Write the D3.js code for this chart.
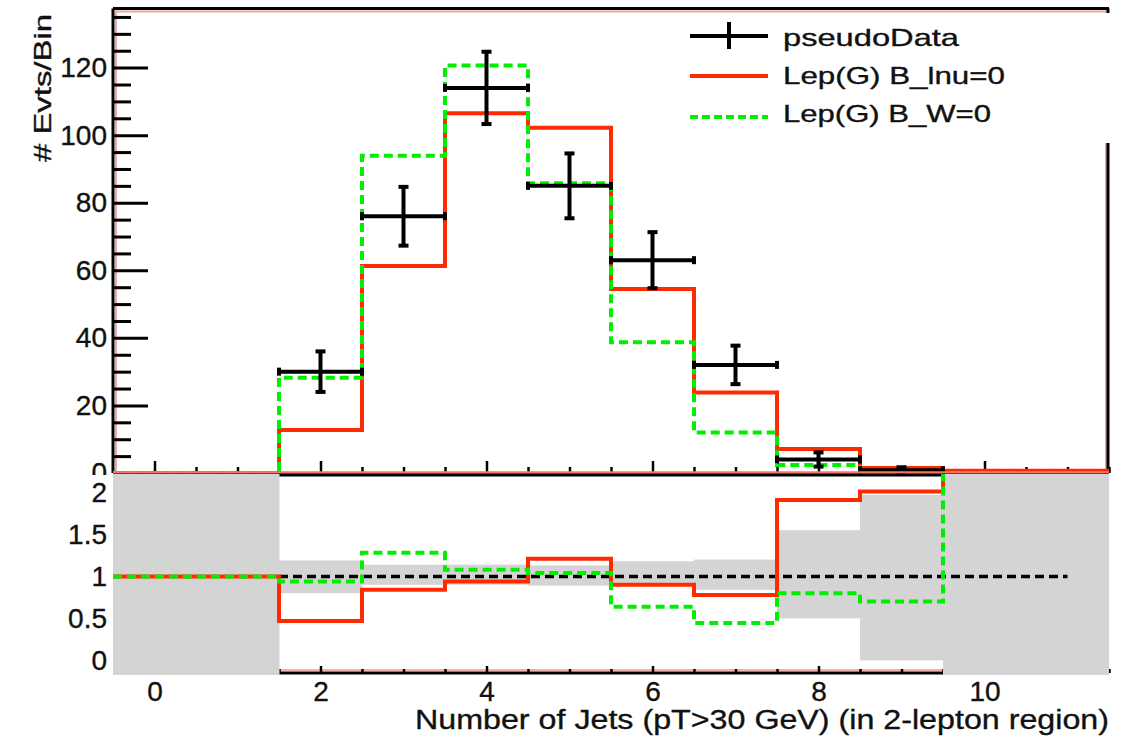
<!DOCTYPE html>
<html><head><meta charset="utf-8">
<script src="https://cdn.jsdelivr.net/npm/d3@7"></script>
<style>
html,body{margin:0;padding:0;background:#fff;}
svg{display:block;font-family:"Liberation Sans",Arial,Helvetica,sans-serif;}
svg text{stroke:#111;stroke-width:0.35px;}
</style>
</head><body>
<svg id="c" width="1132" height="745"></svg>
<script>
// Jet multiplicity bins (bin centres)
const nJets = [0, 1, 2, 3, 4, 5, 6, 7, 8, 9, 10, 11];

// Upper panel: event counts per bin
const pseudoData    = [0, 0, 30, 76, 114, 85, 63, 32, 4, 0.8, 0, 0];
const pseudoDataErr = [0, 0, 6, 8.7, 10.7, 9.6, 8.3, 5.7, 2.1, 0.9, 0, 0];
const lepGBlnu      = [0, 0, 12.7, 61.3, 106.5, 102.2, 54.5, 23.8, 7.1, 1.5, 0.7, 0.7];
const lepGBW        = [0, 0, 28.2, 93.9, 120.6, 85.8, 38.7, 12.0, 2.4, 0.5, 0, 0];

// Lower panel: model / pseudo-data ratios (null = off scale)
const ratioBlnu = [1, 1, 0.47, 0.84, 0.94, 1.21, 0.90, 0.78, 1.91, 2.01, null, null];
const ratioBW    = [1, 1, 0.94, 1.28, 1.08, 1.04, 0.64, 0.445, 0.80, 0.70, null, null];

// Statistical band of the pseudo-data (null = band fills the panel)
const bandHi = [null, null, 1.19, 1.14, 1.14, 1.13, 1.18, 1.20, 1.55, 1.97, null, null];
const bandLo = [null, null, 0.80, 0.90, 0.90, 0.89, 0.92, 0.84, 0.50, 0.00, null, null];

// Axis ticks and labels
const yMajor = [0, 20, 40, 60, 80, 100, 120];
const yMinor = d3.range(0, 136, 5);
const xMajor = [0, 2, 4, 6, 8, 10];
const xMinor = d3.range(0, 11.51, 0.5);
const rMajor = [0, 0.5, 1, 1.5, 2];
const refLine = [1.5, 11];

const legendItems = ["pseudoData", "Lep(G) B_lnu=0", "Lep(G) B_W=0"];
const xTitle = "Number of Jets (pT>30 GeV) (in 2-lepton region)";
const yTitle = "# Evts/Bin";

const RED = "#ff2a00", GREEN = "#00ee00", GRAY = "#d4d4d4", PINK = "#eaa8a8";

const svg = d3.select("#c");
const x  = d3.scaleLinear().domain([-0.5, 11.5]).range([113, 1109]);
const y  = d3.scaleLinear().domain([0, 137.5]).range([473, 8.5]);
const yR = d3.scaleLinear().domain([-0.15, 2.207]).range([673, 475]);

svg.append("rect").attr("width", 1132).attr("height", 745).attr("fill", "#fff");

// ---------- upper panel ----------
const upper = svg.append("g");
// faint inner frame
upper.append("rect").attr("x", x(-0.5) + 3).attr("y", y.range()[1] + 3)
  .attr("width", x(11.5) - x(-0.5) - 6).attr("height", y(0) - y.range()[1] - 3)
  .attr("fill", "none").attr("stroke", PINK).attr("stroke-width", 2);

function styleTicks(g, w) {
  g.select(".domain").remove();
  g.selectAll(".tick line").attr("stroke", "#000").attr("stroke-width", w);
  g.selectAll(".tick text").remove();
}
upper.append("g").attr("transform", `translate(0,${y(0)})`)
  .call(d3.axisTop(x).tickValues(xMinor.filter(v => !xMajor.includes(v))).tickSize(6)).call(g => styleTicks(g, 2.5));
upper.append("g").attr("transform", `translate(0,${y(0)})`)
  .call(d3.axisTop(x).tickValues(xMajor).tickSize(12)).call(g => styleTicks(g, 2.5));
upper.append("g").attr("transform", `translate(${x(-0.5)},0)`)
  .call(d3.axisRight(y).tickValues(yMinor.filter(v => !yMajor.includes(v))).tickSize(18)).call(g => styleTicks(g, 3));
upper.append("g").attr("transform", `translate(${x(-0.5)},0)`)
  .call(d3.axisRight(y).tickValues(yMajor).tickSize(35)).call(g => styleTicks(g, 3));

// frame
const frame = upper.append("g").attr("stroke", "#000").attr("stroke-width", 3);
frame.append("line").attr("x1", x(-0.5)).attr("x2", x(-0.5)).attr("y1", y.range()[1]).attr("y2", y(0));
frame.append("line").attr("x1", x(-0.5)).attr("x2", x(11.5)).attr("y1", y.range()[1]).attr("y2", y.range()[1]);
frame.append("line").attr("x1", x(11.5) - 1).attr("x2", x(11.5) - 1).attr("y1", y.range()[1]).attr("y2", y(0));

const stepPts = vals => vals.flatMap((v, i) => [[nJets[i] - 0.5, v], [nJets[i] + 0.5, v]]);
const histLine = d3.line().x(d => x(d[0])).y(d => y(d[1]));

upper.append("path").attr("d", histLine(stepPts(lepGBlnu)))
  .attr("fill", "none").attr("stroke", RED).attr("stroke-width", 4).attr("stroke-linejoin", "miter");
upper.append("path").attr("d", histLine(stepPts(lepGBW)))
  .attr("fill", "none").attr("stroke", GREEN).attr("stroke-width", 4).attr("stroke-dasharray", "9,5");

// pseudo-data crosses
const pts = nJets.map((n, i) => ({n, v: pseudoData[i], e: pseudoDataErr[i]})).filter(d => d.v > 0);
const dg = upper.append("g").attr("fill", "#000").attr("stroke", "#000");
dg.selectAll("line.h").data(pts).join("line").attr("class", "h")
  .attr("x1", d => x(d.n - 0.5)).attr("x2", d => x(d.n + 0.5))
  .attr("y1", d => y(d.v)).attr("y2", d => y(d.v)).attr("stroke-width", 4);
dg.selectAll("line.v").data(pts).join("line").attr("class", "v")
  .attr("x1", d => x(d.n)).attr("x2", d => x(d.n))
  .attr("y1", d => y(d.v - d.e)).attr("y2", d => y(d.v + d.e)).attr("stroke-width", 4);
["lo", "hi"].forEach(k => {
  dg.selectAll("rect.c" + k).data(pts).join("rect").attr("class", "c" + k).attr("stroke", "none")
    .attr("x", d => x(d.n) - 5).attr("width", 10).attr("height", 4)
    .attr("y", d => y(k === "lo" ? d.v - d.e : d.v + d.e) - 2);
  dg.selectAll("rect.e" + k).data(pts).join("rect").attr("class", "e" + k).attr("stroke", "none")
    .attr("x", d => x(k === "lo" ? d.n - 0.5 : d.n + 0.5) - 2).attr("width", 4).attr("height", 8)
    .attr("y", d => y(d.v) - 4);
});

// legend
const lg = svg.append("g");
lg.append("rect").attr("x", 665).attr("y", 13).attr("width", 450).attr("height", 130).attr("fill", "#fff");
const legY = [36, 76, 117];
const legText = [
  {t: legendItems[0], y: 46, len: 176},
  {t: legendItems[1], y: 84, len: 222},
  {t: legendItems[2], y: 122, len: 208}
];
lg.append("line").attr("x1", 690).attr("x2", 768).attr("y1", legY[0]).attr("y2", legY[0]).attr("stroke", "#000").attr("stroke-width", 4);
lg.append("line").attr("x1", 729).attr("x2", 729).attr("y1", legY[0] - 14).attr("y2", legY[0] + 13).attr("stroke", "#000").attr("stroke-width", 4);
lg.append("line").attr("x1", 690).attr("x2", 768).attr("y1", legY[1]).attr("y2", legY[1]).attr("stroke", RED).attr("stroke-width", 4);
lg.append("line").attr("x1", 690).attr("x2", 768).attr("y1", legY[2]).attr("y2", legY[2]).attr("stroke", GREEN).attr("stroke-width", 4).attr("stroke-dasharray", "8,4");
lg.selectAll("text").data(legText).join("text")
  .attr("x", 783).attr("y", d => d.y).attr("font-size", 24).attr("fill", "#111")
  .attr("textLength", d => d.len).attr("lengthAdjust", "spacingAndGlyphs").text(d => d.t);

// upper y labels
svg.append("g").attr("transform", `translate(${x(-0.5)},0)`)
  .call(d3.axisLeft(y).tickValues(yMajor).tickSize(0).tickPadding(6))
  .call(g => { g.select(".domain").remove(); g.selectAll("text").attr("font-size", 28).attr("fill", "#111").attr("font-family", null); });

// ---------- lower panel ----------
svg.append("rect").attr("x", 0).attr("y", yR.range()[1]).attr("width", 1132).attr("height", 745 - yR.range()[1]).attr("fill", "#fff");
const lower = svg.append("g");
lower.append("line").attr("x1", x(-0.5)).attr("x2", x(11.5)).attr("y1", yR.range()[0] - 3).attr("y2", yR.range()[0] - 3)
  .attr("stroke", "#f6b0a8").attr("stroke-width", 2);
lower.append("line").attr("x1", x(-0.5)).attr("x2", x(11.5)).attr("y1", y(0) - 0.5).attr("y2", y(0) - 0.5)
  .attr("stroke", "#f47468").attr("stroke-width", 2.5);
lower.append("g").attr("transform", `translate(0,${yR.range()[0]})`)
  .call(d3.axisTop(x).tickValues(xMinor.filter(v => !xMajor.includes(v))).tickSize(4)).call(g => styleTicks(g, 2.5));
lower.append("g").attr("transform", `translate(0,${yR.range()[0]})`)
  .call(d3.axisTop(x).tickValues(xMajor).tickSize(7)).call(g => styleTicks(g, 2.5));
const bf = lower.append("g").attr("stroke", "#000").attr("stroke-width", 3);
bf.append("line").attr("x1", x(-0.5)).attr("x2", x(11.5)).attr("y1", yR.range()[1]).attr("y2", yR.range()[1]);
bf.append("line").attr("x1", x(-0.5)).attr("x2", x(11.5)).attr("y1", yR.range()[0]).attr("y2", yR.range()[0]);

svg.append("clipPath").attr("id", "rclip").append("rect")
  .attr("x", x(-0.5)).attr("y", yR.range()[1] - 1).attr("width", x(11.5) - x(-0.5)).attr("height", yR.range()[0] - yR.range()[1] + 3);
const inner = lower.append("g").attr("clip-path", "url(#rclip)");

const [rLo, rHi] = yR.domain();
const band = nJets.map((n, i) => ({n, lo: bandLo[i] ?? rLo - 1, hi: bandHi[i] ?? rHi + 1}));
inner.selectAll("rect.band").data(band).join("rect").attr("class", "band")
  .attr("x", d => x(d.n - 0.5)).attr("width", d => x(d.n + 0.5) - x(d.n - 0.5) + 0.5)
  .attr("y", d => yR(d.hi)).attr("height", d => yR(d.lo) - yR(d.hi)).attr("fill", GRAY);

inner.append("line").attr("x1", x(refLine[0])).attr("x2", x(refLine[1]))
  .attr("y1", yR(1)).attr("y2", yR(1)).attr("stroke", "#000").attr("stroke-width", 3.5).attr("stroke-dasharray", "9,5");

const ratioLine = d3.line().x(d => x(d[0])).y(d => yR(d[1] ?? rHi + 1));
inner.append("path").attr("d", ratioLine(stepPts(ratioBlnu)))
  .attr("fill", "none").attr("stroke", RED).attr("stroke-width", 4);
inner.append("path").attr("d", ratioLine(stepPts(ratioBW)))
  .attr("fill", "none").attr("stroke", GREEN).attr("stroke-width", 4).attr("stroke-dasharray", "9,5");

// lower y labels
svg.append("g").attr("transform", `translate(${x(-0.5)},0)`)
  .call(d3.axisLeft(yR).tickValues(rMajor).tickSize(0).tickPadding(6).tickFormat(d3.format("~g")))
  .call(g => { g.select(".domain").remove(); g.selectAll("text").attr("font-size", 28).attr("fill", "#111").attr("font-family", null); });
// x labels
svg.append("g").attr("transform", `translate(0,${yR.range()[0]})`)
  .call(d3.axisBottom(x).tickValues(xMajor).tickSize(0).tickPadding(8))
  .call(g => { g.select(".domain").remove(); g.selectAll("text").attr("font-size", 28).attr("fill", "#111").attr("font-family", null); });

// axis titles
svg.append("text").attr("x", 415).attr("y", 729).attr("font-size", 27).attr("fill", "#111")
  .attr("textLength", 694).attr("lengthAdjust", "spacingAndGlyphs").text(xTitle);
svg.append("text").attr("transform", "translate(51,14) rotate(-90)").attr("text-anchor", "end")
  .attr("font-size", 24).attr("fill", "#111")
  .attr("textLength", 148).attr("lengthAdjust", "spacingAndGlyphs").text(yTitle);
</script>
</body></html>
